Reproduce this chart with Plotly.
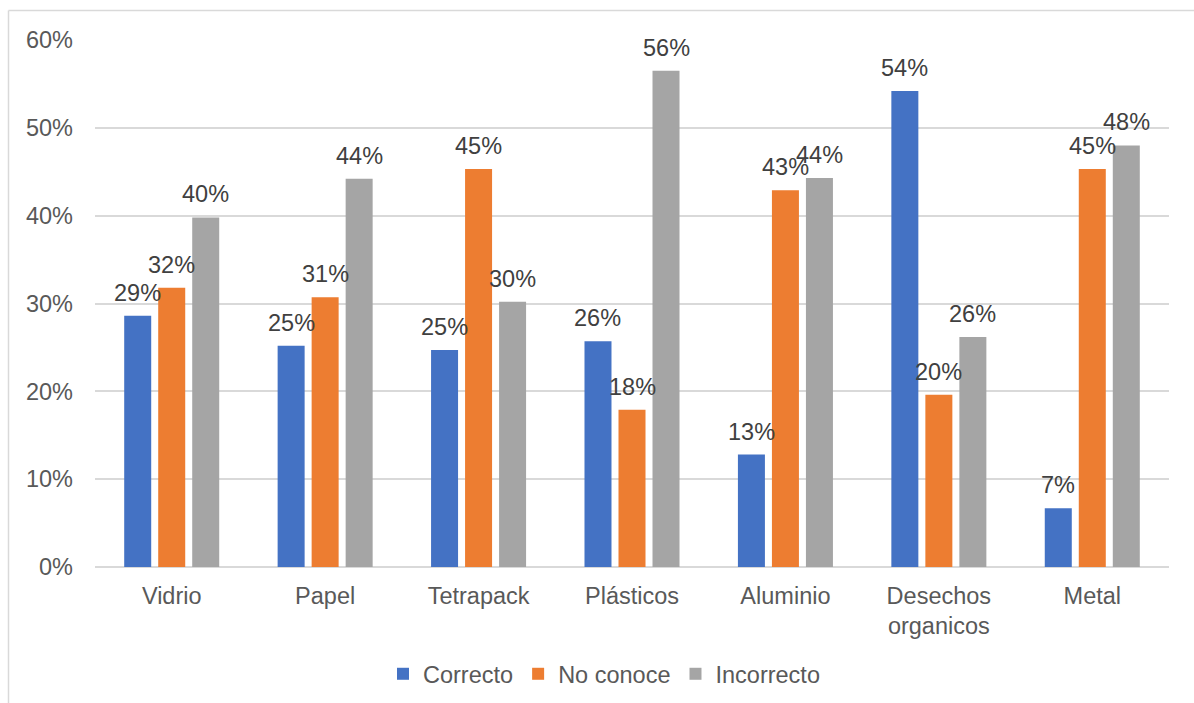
import plotly.graph_objects as go

categories = ["Vidrio", "Papel", "Tetrapack", "Plásticos", "Aluminio", "Desechos<br>organicos", "Metal"]
correcto = [0.286, 0.252, 0.247, 0.257, 0.128, 0.542, 0.067]
no_conoce = [0.318, 0.307, 0.453, 0.179, 0.429, 0.196, 0.453]
incorrecto = [0.398, 0.442, 0.302, 0.565, 0.443, 0.262, 0.480]
series_names = ["Correcto", "No conoce", "Incorrecto"]
colors = ["#4472C4", "#ED7D31", "#A5A5A5"]
y_ticks = [0, 0.1, 0.2, 0.3, 0.4, 0.5, 0.6]
y_tick_labels = ["0%", "10%", "20%", "30%", "40%", "50%", "60%"]

FONT = "Liberation Sans, Arial, sans-serif"
FS = 23.5
fig = go.Figure()
all_series = [correcto, no_conoce, incorrecto]
for name, vals, col in zip(series_names, all_series, colors):
    fig.add_trace(go.Bar(
        x=categories, y=vals, name=name, marker=dict(color=col, line=dict(width=0)),
    ))

L, R, T, B = 95, 25, 40, 136
W, H = 1194, 703
pw, ph = W - L - R, H - T - B
px = lambda p: (p - L) / pw
py = lambda p: (H - B - p) / ph

bargap = 0.335
slot = pw / len(categories) * (1 - bargap) / 3

annotations = []
for i, vals in enumerate(all_series):
    for c, v in zip(categories, vals):
        annotations.append(dict(
            x=c, y=v, xref="x", yref="y", text=f"{round(v*100):d}%", showarrow=False,
            xshift=(i - 1) * slot, yshift=23, yanchor="middle", xanchor="center",
            font=dict(family=FONT, size=FS, color="#404040"),
        ))

fig.update_layout(
    width=W, height=H,
    margin=dict(l=L, r=R, t=T, b=B, autoexpand=False),
    paper_bgcolor="white", plot_bgcolor="white",
    barmode="group", bargap=bargap, bargroupgap=0.206,
    font=dict(family=FONT, size=FS, color="#595959"),
    showlegend=True,
    legend=dict(orientation="h", x=px(604), xanchor="center", y=py(674), yanchor="middle",
                font=dict(family=FONT, size=FS, color="#595959"), traceorder="normal",
                itemsizing="constant"),
    xaxis=dict(showgrid=False, showline=False, zeroline=False, ticks="",
               tickfont=dict(family=FONT, size=FS, color="#595959"), ticklabelstandoff=12),
    yaxis=dict(range=[0, 0.6], tickvals=y_ticks, ticktext=y_tick_labels,
               showgrid=True, gridcolor="#D9D9D9", gridwidth=1.5,
               zeroline=True, zerolinecolor="#D9D9D9", zerolinewidth=1.5,
               showline=False, ticks="",
               tickfont=dict(family=FONT, size=FS, color="#595959"), ticklabelstandoff=21),
    annotations=annotations,
    shapes=[
        dict(type="line", xref="paper", yref="paper", x0=px(8.5), x1=px(8.5), y0=py(10.5), y1=py(720),
             line=dict(color="#D9D9D9", width=1.5)),
        dict(type="line", xref="paper", yref="paper", x0=px(8.5), x1=px(1210), y0=py(10.5), y1=py(10.5),
             line=dict(color="#D9D9D9", width=1.5)),
    ],
)

fig.write_html("out.html")
